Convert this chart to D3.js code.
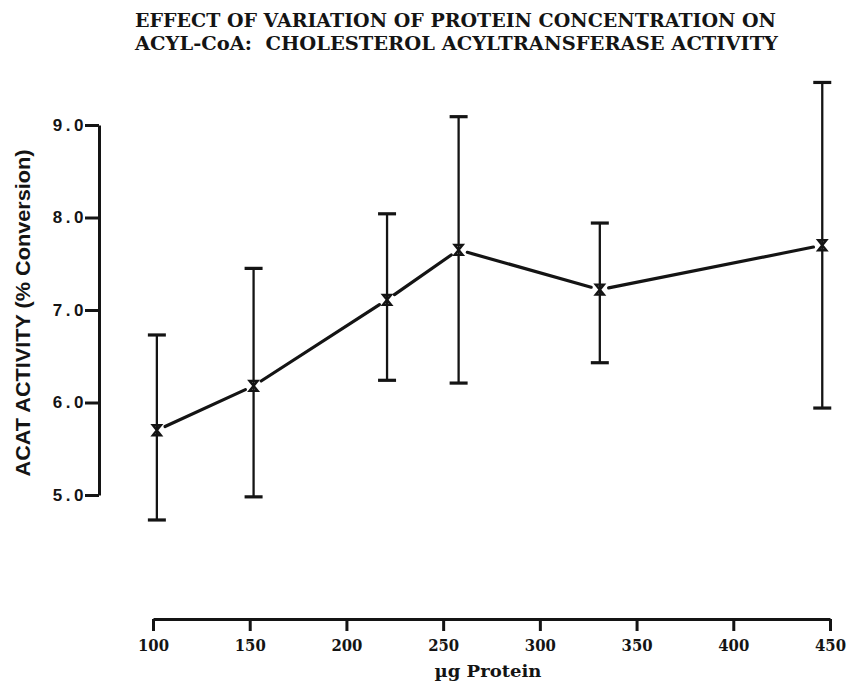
<!DOCTYPE html>
<html>
<head>
<meta charset="utf-8">
<script src="https://cdn.jsdelivr.net/npm/d3@7"></script>
<style>
  body { margin: 0; background: #ffffff; }
  svg { display: block; }
</style>
</head>
<body>
<svg id="chart" width="852" height="690"></svg>
<script>
// ACAT activity versus amount of microsomal protein in the assay
const titleLines = [
  "EFFECT OF VARIATION OF PROTEIN CONCENTRATION ON",
  "ACYL-CoA:  CHOLESTEROL ACYLTRANSFERASE ACTIVITY"
];
const protein  = [102, 152, 221, 258, 331, 446];          // µg protein
const activity = [5.70, 6.18, 7.11, 7.65, 7.22, 7.70];    // % conversion
const errHigh  = [6.73, 7.45, 8.04, 9.09, 7.94, 9.46];
const errLow   = [4.73, 4.98, 6.24, 6.21, 6.43, 5.94];
const xTicks = [100, 150, 200, 250, 300, 350, 400, 450];
const yTicks = [5, 6, 7, 8, 9];
const xLabel = "\u00b5g Protein";
const yLabel = "ACAT ACTIVITY (% Conversion)";

const ink = "#141414";
const typeFace = "'DejaVu Serif', 'Liberation Serif', serif";
const svg = d3.select("#chart");

const x = d3.scaleLinear().domain([100, 450]).range([153, 830]);
const y = d3.scaleLinear().domain([5, 9]).range([495, 125]);

// Title, slab-serif typewriter style
const title = svg.append("g")
  .attr("font-family", typeFace)
  .attr("font-weight", "bold")
  .attr("font-size", 19)
  .attr("fill", ink);
title.selectAll("text").data(titleLines).join("text")
  .attr("x", 135)
  .attr("y", (d, i) => 27 + i * 23)
  .attr("textLength", (d, i) => i === 0 ? 641 : 643)
  .attr("lengthAdjust", "spacingAndGlyphs")
  .style("white-space", "pre")
  .text(d => d);

// Y axis
const yAxis = svg.append("g")
  .attr("transform", "translate(99,0)")
  .call(d3.axisLeft(y).tickValues(yTicks).tickFormat(d3.format(".1f"))
        .tickSize(14).tickSizeOuter(0).tickPadding(0));
yAxis.select(".domain").attr("stroke", ink).attr("stroke-width", 3);
yAxis.selectAll(".tick line").attr("stroke", ink).attr("stroke-width", 3);
yAxis.selectAll(".tick text")
  .attr("x", -12)
  .attr("fill", ink)
  .attr("font-family", "'Liberation Sans', Arial, sans-serif")
  .attr("font-weight", "bold")
  .attr("font-size", 17)
  .attr("letter-spacing", "3.5px");

// X axis (detached, below the plot)
const xAxis = svg.append("g")
  .attr("transform", "translate(0,619)")
  .call(d3.axisBottom(x).tickValues(xTicks).tickFormat(d3.format("d"))
        .tickSize(12).tickSizeOuter(0).tickPadding(9));
xAxis.select(".domain").attr("stroke", ink).attr("stroke-width", 3);
xAxis.selectAll(".tick line").attr("stroke", ink).attr("stroke-width", 3);
xAxis.selectAll(".tick text")
  .attr("fill", ink)
  .attr("font-family", typeFace)
  .attr("font-weight", "bold")
  .attr("font-size", 16)
  .attr("textLength", 31)
  .attr("lengthAdjust", "spacingAndGlyphs");

// Axis titles
svg.append("text")
  .attr("x", 488).attr("y", 677)
  .attr("text-anchor", "middle")
  .attr("font-family", typeFace)
  .attr("font-weight", "bold")
  .attr("font-size", 16)
  .attr("textLength", 107)
  .attr("lengthAdjust", "spacingAndGlyphs")
  .attr("fill", ink)
  .text(xLabel);

svg.append("text")
  .attr("transform", "translate(30,313) rotate(-90)")
  .attr("text-anchor", "middle")
  .attr("font-family", "'Liberation Sans', Arial, sans-serif")
  .attr("font-weight", "bold")
  .attr("font-size", 20)
  .attr("textLength", 327)
  .attr("lengthAdjust", "spacingAndGlyphs")
  .attr("fill", ink)
  .text(yLabel);

// Data
const pts = protein.map((p, i) => ({
  x: p, v: activity[i], hi: errHigh[i], lo: errLow[i]
}));

// Error bars
const bars = svg.append("g").attr("stroke", ink);
bars.selectAll("line.stem").data(pts).join("line")
  .attr("class", "stem")
  .attr("x1", d => x(d.x)).attr("x2", d => x(d.x))
  .attr("y1", d => y(d.hi)).attr("y2", d => y(d.lo))
  .attr("stroke-width", 2.3);
bars.selectAll("line.cap-hi").data(pts).join("line")
  .attr("class", "cap-hi")
  .attr("x1", d => x(d.x) - 9).attr("x2", d => x(d.x) + 9)
  .attr("y1", d => y(d.hi)).attr("y2", d => y(d.hi))
  .attr("stroke-width", 3.2);
bars.selectAll("line.cap-lo").data(pts).join("line")
  .attr("class", "cap-lo")
  .attr("x1", d => x(d.x) - 9).attr("x2", d => x(d.x) + 9)
  .attr("y1", d => y(d.lo)).attr("y2", d => y(d.lo))
  .attr("stroke-width", 3.2);

// Connecting line, broken just short of each marker
const gap = 9;
const segs = d3.pairs(pts).map(([a, b]) => {
  const x1 = x(a.x), y1 = y(a.v), x2 = x(b.x), y2 = y(b.v);
  const len = Math.hypot(x2 - x1, y2 - y1);
  const ux = (x2 - x1) / len, uy = (y2 - y1) / len;
  return [x1 + ux * gap, y1 + uy * gap, x2 - ux * gap, y2 - uy * gap];
});
svg.append("g").selectAll("line").data(segs).join("line")
  .attr("x1", d => d[0]).attr("y1", d => d[1])
  .attr("x2", d => d[2]).attr("y2", d => d[3])
  .attr("stroke", ink)
  .attr("stroke-width", 3.2)
  .attr("stroke-linecap", "round");

// Hourglass-style "x" markers
svg.append("g").selectAll("path").data(pts).join("path")
  .attr("transform", d => `translate(${x(d.x)},${y(d.v)})`)
  .attr("d", "M-4,-5H4L-4,5H4Z")
  .attr("fill", "none")
  .attr("stroke", ink)
  .attr("stroke-width", 2.4)
  .attr("stroke-linejoin", "miter");
</script>
</body>
</html>
